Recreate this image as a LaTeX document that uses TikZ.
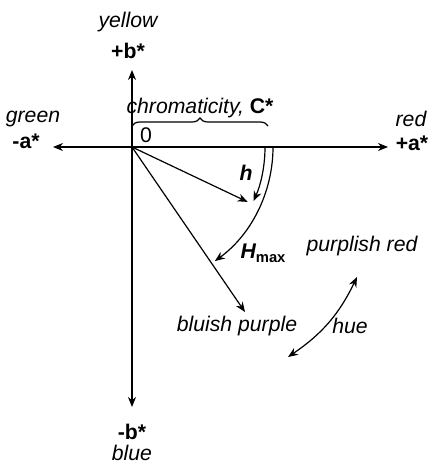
\documentclass[tikz,border=0pt]{standalone}
\usepackage{fontspec}
\setmainfont{Liberation Sans}
\usetikzlibrary{arrows.meta,decorations.pathreplacing,calc}

\begin{document}
\begin{tikzpicture}[x=0.5pt,y=-0.5pt,>={Stealth[length=5pt,width=4pt]},
  line width=0.6pt,
  colname/.style={font=\fontsize{10.6}{12}\selectfont\itshape,inner sep=0pt},
  axlabel/.style={font=\fontsize{10.6}{12}\selectfont\bfseries,inner sep=0pt}]
\useasboundingbox (0,0) rectangle (432,464);
\coordinate (O) at (132,147);
\coordinate (W) at (53,147);
\coordinate (E) at (388,147);
\coordinate (N) at (132,70);
\coordinate (S) at (132,407);
% axes and their labels
\draw[<->] (W) -- (E);
\draw[<->] (N) -- (S);
\node[colname] (yellow) at (128,22) {yellow};
\node[axlabel] (bpos) at (128,51) {+b*};
\node[colname] (green) at (33,119) {green};
\node[axlabel] (aneg) at (26,141) {-a*};
\node[colname] (red) at (411,119) {red};
\node[axlabel] (apos) at (412,143) {+a*};
\node[axlabel] (bneg) at (132,432) {-b*};
\node[colname] (blue) at (132,453) {blue};
\node[font=\fontsize{10.6}{12}\selectfont,inner sep=0pt] (zero) at (146,135) {0};
% chroma
\coordinate (bl) at (132,126);
\coordinate (br) at (268,126);
\draw[decorate,decoration={brace,amplitude=4pt}] (bl) -- (br);
\node[colname] (chroma) at (200,108) {chromaticity, {\upshape\bfseries C*}};
% hue angles
\coordinate (hend) at ($(O)+(25.4:128)$);
\coordinate (pend) at ($(O)+(55.6:200)$);
\draw[->] (O) -- (hend);
\draw[->] (O) -- (pend);
\coordinate (harc) at ($(O)+(133,0)$);
\coordinate (Harc) at ($(O)+(141,0)$);
\draw[->] (harc) arc[start angle=0,end angle=24,radius=133];
\draw[->] (Harc) arc[start angle=0,end angle=54,radius=141];
\node[colname,font=\fontsize{10.6}{12}\selectfont\bfseries\itshape] (h) at (246,173) {h};
\node[inner sep=0pt] (Hmax) at (263,253) {{\fontsize{10.6}{12}\selectfont\bfseries\itshape H}\raisebox{-0.35ex}{\fontsize{7.4}{8}\selectfont\bfseries max}};
\node[colname] (bluish) at (237,326) {bluish purple};
\node[colname] (purplish) at (362,246) {purplish red};
\coordinate (hueA) at (288,357);
\coordinate (hueB) at (357,277);
\draw[<->] (hueA) to[bend right=15] (hueB);
\node[colname] (hue) at (350,326) {hue};
\end{tikzpicture}
\end{document}
